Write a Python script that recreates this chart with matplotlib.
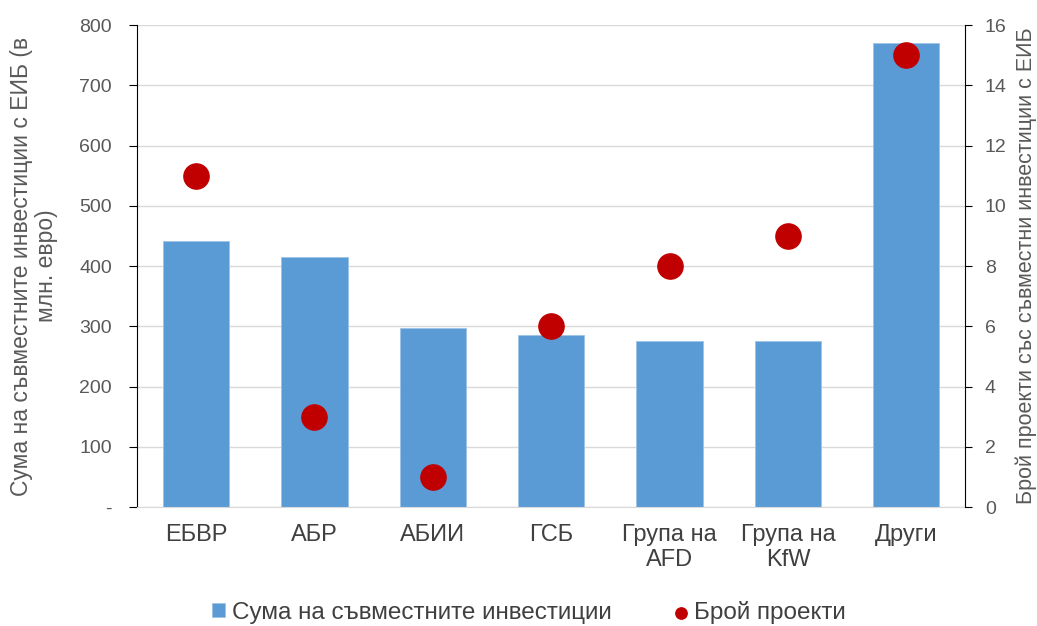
import matplotlib.pyplot as plt
import numpy as np

plt.rcParams['font.family'] = ['Liberation Sans', 'DejaVu Sans']

categories = ["ЕБВР", "АБР", "АБИИ", "ГСБ", "Група на\nAFD", "Група на\nKfW", "Други"]
amounts = [441, 415, 298, 285, 275, 275, 771]
projects = [11, 3, 1, 6, 8, 9, 15]

BAR_COLOR = "#5B9BD5"
DOT_COLOR = "#C00000"
TXT = "#595959"

fig = plt.figure(figsize=(10.37, 6.26), dpi=100)
ax = fig.add_axes([0.132, 0.19, 0.799, 0.77])
x = np.arange(len(categories))
ax.bar(x, amounts, width=0.56, color=BAR_COLOR, edgecolor="#9DC3E6", linewidth=0.6,
       label="Сума на съвместните инвестиции", zorder=2)
ax.set_ylim(0, 800)
ax.set_xlim(-0.5, len(categories) - 0.5)
ax.set_yticks(range(0, 801, 100))
ax.set_yticklabels(["-"] + [str(v) for v in range(100, 801, 100)])
ax.grid(axis='y', color="#D9D9D9", linewidth=1, zorder=0)
ax.set_axisbelow(True)
ax.set_xticks(x)
ax.set_xticklabels(categories, fontsize=17, color="#404040", linespacing=1.2)
ax.tick_params(axis='x', length=0, pad=12)
ax.tick_params(axis='y', colors=TXT, labelsize=14, length=6, direction='out', pad=12)
ax.tick_params(axis='y', color='black')
ax.spines["top"].set_visible(False)
ax.spines["bottom"].set_color("#D9D9D9")
ax.spines["left"].set_color("black")
ax.spines["right"].set_visible(False)
ax.set_ylabel("Сума на съвместните инвестиции с ЕИБ (в\nмлн. евро)", fontsize=16.5, color=TXT,
              linespacing=1.1)
ax.yaxis.set_label_coords(-0.095, 0.5)

ax2 = ax.twinx()
ax2.scatter(x, projects, s=330, color=DOT_COLOR, zorder=3, label="Брой проекти")
ax2.set_ylim(0, 16)
ax2.set_yticks(range(0, 17, 2))
ax2.tick_params(axis='y', colors=TXT, labelsize=14, length=5, direction='out', pad=9)
ax2.tick_params(axis='y', color='black')
ax2.spines["top"].set_visible(False)
ax2.spines["left"].set_visible(False)
ax2.spines["bottom"].set_visible(False)
ax2.spines["right"].set_color("black")
ax2.set_ylabel("Брой проекти със съвместни инвестиции с ЕИБ", fontsize=15.5, color=TXT)
ax2.yaxis.set_label_coords(1.061, 0.5)

h1, l1 = ax.get_legend_handles_labels()
h2, l2 = ax2.get_legend_handles_labels()
fig.legend(h1 + h2, l1 + l2, loc='center', bbox_to_anchor=(0.51, 0.022), ncol=2,
           frameon=False, fontsize=17.5, handlelength=0.55, handleheight=0.55,
           handletextpad=0.25, columnspacing=2.6, labelcolor="#404040", markerscale=0.45)

fig.savefig("out.png", dpi=100)
